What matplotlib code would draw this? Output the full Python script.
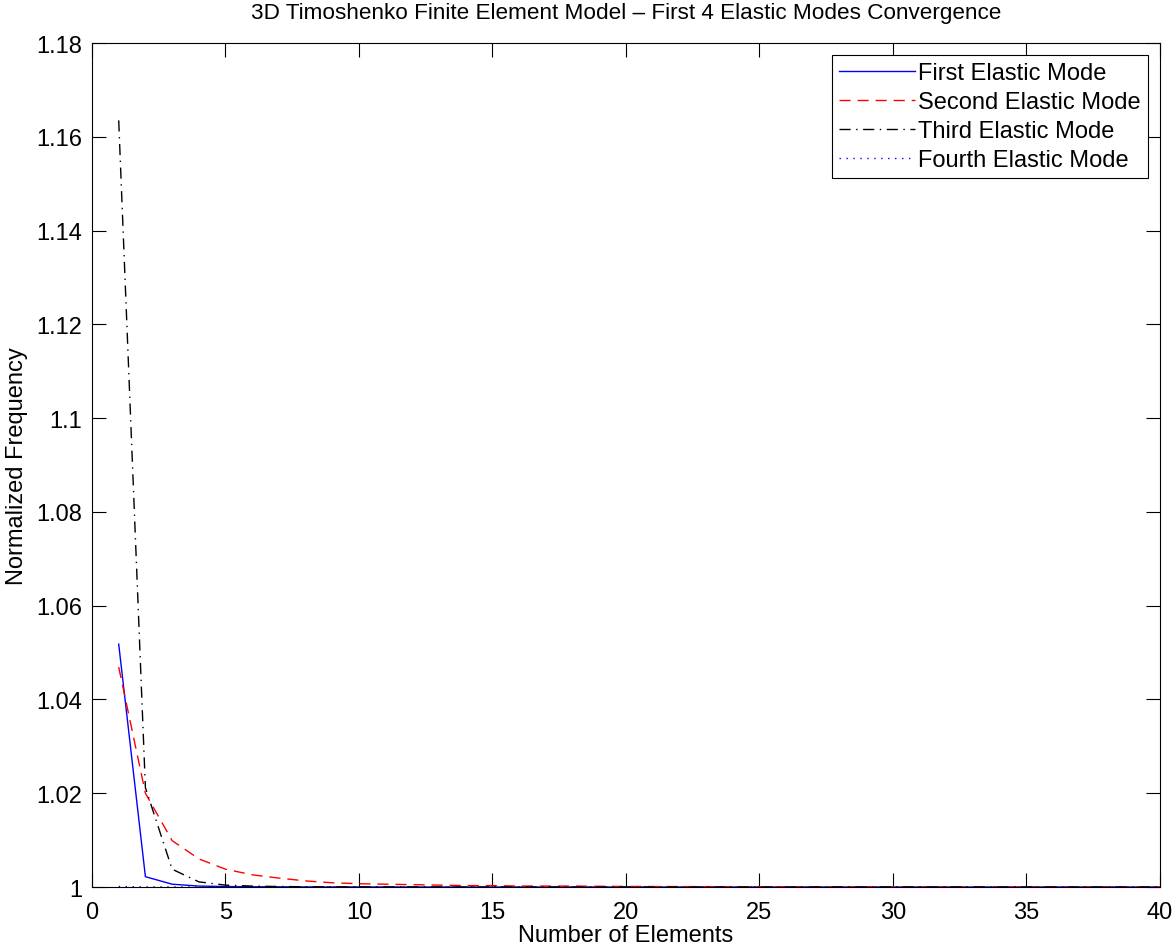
import matplotlib
matplotlib.use("Agg")
import matplotlib.pyplot as plt
from matplotlib.ticker import FormatStrFormatter

plt.rcParams["font.family"] = ["Liberation Sans", "DejaVu Sans"]

# number of elements
n_elements = list(range(1, 41))

# normalized frequencies
first_mode = [1.0518, 1.0022, 1.0006, 1.0002, 1.0001, 1.00005, 1.00003, 1.00002,
              1.00001, 1.00001, 1.0, 1.0, 1.0, 1.0, 1.0, 1.0, 1.0, 1.0, 1.0, 1.0,
              1.0, 1.0, 1.0, 1.0, 1.0, 1.0, 1.0, 1.0, 1.0, 1.0,
              1.0, 1.0, 1.0, 1.0, 1.0, 1.0, 1.0, 1.0, 1.0, 1.0]
second_mode = [1.0469, 1.0200, 1.0099, 1.0060, 1.0038, 1.0026, 1.0019, 1.0013,
               1.0009, 1.0007, 1.0006, 1.0005, 1.0004, 1.0003, 1.0003, 1.0002,
               1.0002, 1.0002, 1.00015, 1.00012, 1.0001, 1.00009, 1.00008, 1.00007,
               1.00006, 1.00005, 1.00005, 1.00004, 1.00004, 1.00003,
               1.00003, 1.00003, 1.00002, 1.00002, 1.00002, 1.00002, 1.00001, 1.00001,
               1.00001, 1.00001]
third_mode = [1.1635, 1.0212, 1.0038, 1.0011, 1.0004, 1.0002, 1.0001, 1.00006,
              1.00004, 1.00003, 1.00002, 1.00001, 1.00001, 1.0, 1.0, 1.0, 1.0, 1.0,
              1.0, 1.0, 1.0, 1.0, 1.0, 1.0, 1.0, 1.0, 1.0, 1.0, 1.0, 1.0,
              1.0, 1.0, 1.0, 1.0, 1.0, 1.0, 1.0, 1.0, 1.0, 1.0]
fourth_mode = [1.0001, 1.00003, 1.00001, 1.0, 1.0, 1.0, 1.0, 1.0, 1.0, 1.0,
               1.0, 1.0, 1.0, 1.0, 1.0, 1.0, 1.0, 1.0, 1.0, 1.0,
               1.0, 1.0, 1.0, 1.0, 1.0, 1.0, 1.0, 1.0, 1.0, 1.0,
               1.0, 1.0, 1.0, 1.0, 1.0, 1.0, 1.0, 1.0, 1.0, 1.0]

x_ticks = [0, 5, 10, 15, 20, 25, 30, 35, 40]
y_ticks = [1.0, 1.02, 1.04, 1.06, 1.08, 1.1, 1.12, 1.14, 1.16, 1.18]

fig = plt.figure(figsize=(11.75, 9.53), dpi=100)
ax = fig.add_axes([0.0783, 0.0682, 0.9089, 0.8856])

ax.plot(n_elements, first_mode, "-", color="blue", lw=1.0, label="First Elastic Mode")
ax.plot(n_elements, second_mode, "--", color="red", lw=1.0, dashes=(8, 5),
        label="Second Elastic Mode")
ax.plot(n_elements, third_mode, "-.", color="black", lw=1.0, dashes=(8, 4, 1, 4),
        label="Third Elastic Mode")
ax.plot(n_elements, fourth_mode, ":", color="blue", lw=1.0, dashes=(1, 4),
        label="Fourth Elastic Mode")

ax.set_xlim(0, 40)
ax.set_ylim(1.0, 1.18)
ax.set_xticks(x_ticks)
ax.set_yticks(y_ticks)
ax.yaxis.set_major_formatter(FormatStrFormatter("%g"))
ax.tick_params(direction="in", top=True, right=True, length=10, width=0.8,
               labelsize=17, pad=7)
ax.tick_params(axis="x", pad=10)
for side in ax.spines.values():
    side.set_linewidth(0.8)

ax.set_xlabel("Number of Elements", fontsize=17, labelpad=1)
ax.set_ylabel("Normalized Frequency", fontsize=17, labelpad=6)
ax.set_title("3D Timoshenko Finite Element Model \u2013 First 4 Elastic Modes Convergence",
             fontsize=16.2, pad=18)

leg = ax.legend(loc="upper right", fontsize=17, handlelength=3.2, handletextpad=0.15,
                labelspacing=0.3, borderpad=0.3, fancybox=False, framealpha=1,
                borderaxespad=0.5)
leg.get_frame().set_edgecolor("black")
leg.get_frame().set_linewidth(0.8)

fig.savefig("out.png", dpi=100)
